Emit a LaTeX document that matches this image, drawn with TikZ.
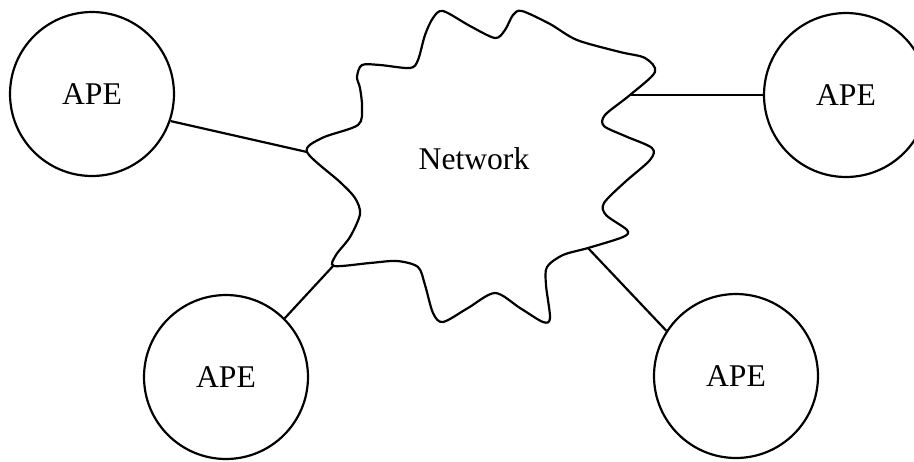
\documentclass[tikz,border=0pt]{standalone}
\usepackage{fontspec}
\setmainfont{Liberation Serif}
\usetikzlibrary{shapes,arrows}

\begin{document}
\begin{tikzpicture}[x=0.02cm,y=-0.02cm,line width=1.25pt,
                every node/.style={font=\fontsize{18}{21}\selectfont},
                ape/.style={draw,circle,minimum size=3.28cm,inner sep=0pt}]
  \useasboundingbox (0,0) rectangle (914,461);
  \node[ape]  (tl) at (92,94)   { APE };
  \node[ape]  (tr) at (846,95)  { APE };
  \node[ape]  (bl) at (226,377) { APE };
  \node[ape]  (br) at (736,376) { APE };
  \node       (net) at (474,159) { Network };
  % the cloud
  \draw plot[smooth cycle,tension=0.5] coordinates {
    (443,11) (470,26) (495,38) (505,30) (513,15) (522,11) (550,24) (577,40)
    (620,52) (645,58) (655,72) (630,95) (605,115) (604,126) (625,136) (652,148)
    (650,160) (625,182) (604,203) (606,215) (627,230) (623,237) (588,248)
    (563,255) (547,267) (546,285) (550,318) (543,322) (520,308) (495,293)
    (468,308) (443,322) (433,313) (425,285) (418,267) (397,261) (370,263)
    (334,266) (336,255) (350,237) (360,214) (355,198) (340,182) (307,152)
    (322,138) (358,125) (362,107) (360,88) (357,77) (362,65) (380,65)
    (410,68) (418,60) (425,35) (433,18)};
  \coordinate (cw) at (307,152);
  \coordinate (ce) at (630,95);
  \coordinate (csw) at (334,265);
  \coordinate (cse) at (588,248);
  \draw (tl.-19) -- (cw);
  \draw (ce) -- (tr.180);
  \draw (bl.45) -- (csw);
  \draw (br.147) -- (cse);
\end{tikzpicture}
\end{document}
